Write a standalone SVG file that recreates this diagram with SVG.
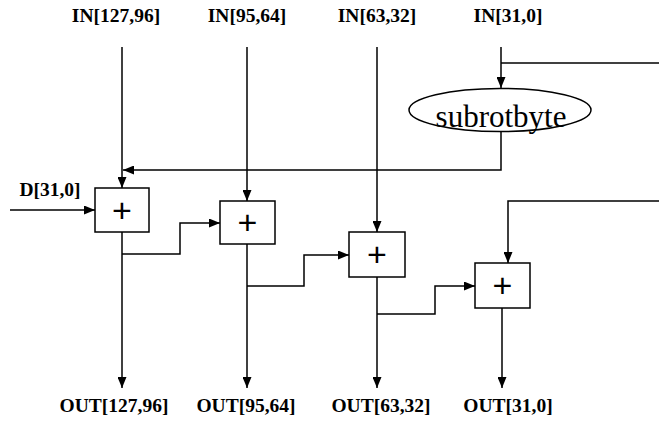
<svg xmlns="http://www.w3.org/2000/svg" width="659" height="426" viewBox="0 0 659 426">
<style>
.lbl{font-family:"Liberation Serif","Times New Roman",serif;font-weight:bold;font-size:19.5px;fill:#000;text-anchor:middle}
.box{fill:#fff;stroke:#000;stroke-width:1.5}
.plus{font-family:"Liberation Sans",Arial,sans-serif;font-size:34px;fill:#000;text-anchor:middle}
.w{fill:none;stroke:#000;stroke-width:1.5}
</style>
<defs>
<marker id="ah" viewBox="0 0 11 9" refX="11" refY="4.5" markerWidth="11" markerHeight="9" markerUnits="userSpaceOnUse" orient="auto">
<path d="M0,0 L11,4.5 L0,9 Z" fill="#000"/>
</marker>
</defs>
<rect width="659" height="426" fill="#fff"/>
<g id="labels">
<text class="lbl" x="116" y="22">IN[127,96]</text>
<text class="lbl" x="247" y="22">IN[95,64]</text>
<text class="lbl" x="377" y="22">IN[63,32]</text>
<text class="lbl" x="508" y="22">IN[31,0]</text>
<text class="lbl" x="50" y="196">D[31,0]</text>
<text class="lbl" x="114" y="412">OUT[127,96]</text>
<text class="lbl" x="246" y="412">OUT[95,64]</text>
<text class="lbl" x="381" y="412">OUT[63,32]</text>
<text class="lbl" x="508" y="412">OUT[31,0]</text>
</g>
<g id="connectors">
<path class="w" d="M122,47 V188" marker-end="url(#ah)"/>
<path class="w" d="M247,47 V201" marker-end="url(#ah)"/>
<path class="w" d="M377,47 V232" marker-end="url(#ah)"/>
<path class="w" d="M501,47 V88" marker-end="url(#ah)"/>
<path class="w" d="M501,63 H659"/>
<path class="w" d="M501,131 V170 H123" marker-end="url(#ah)"/>
<path class="w" d="M10,210 H95" marker-end="url(#ah)"/>
<path class="w" d="M122,232 V388" marker-end="url(#ah)"/>
<path class="w" d="M122,254 H180 V223 H220" marker-end="url(#ah)"/>
<path class="w" d="M247,244 V388" marker-end="url(#ah)"/>
<path class="w" d="M247,286 H304 V255 H349" marker-end="url(#ah)"/>
<path class="w" d="M377,277 V388" marker-end="url(#ah)"/>
<path class="w" d="M377,314 H435 V286 H475" marker-end="url(#ah)"/>
<path class="w" d="M659,201 H508 V263" marker-end="url(#ah)"/>
<path class="w" d="M502,308 V388" marker-end="url(#ah)"/>
</g>
<g id="subrotbyte">
<ellipse cx="500" cy="110" rx="91" ry="21.5" fill="#fff" stroke="#000" stroke-width="1.5"/>
<text x="501" y="127" font-family="'Liberation Serif','Times New Roman',serif" font-size="31" text-anchor="middle">subrotbyte</text>
</g>
<g id="add1">
<rect class="box" x="95" y="188" width="54" height="44"/>
<text class="plus" x="122" y="222">+</text>
</g>
<g id="add2">
<rect class="box" x="220" y="201" width="55" height="43"/>
<text class="plus" x="247.5" y="234">+</text>
</g>
<g id="add3">
<rect class="box" x="349" y="232" width="56" height="45"/>
<text class="plus" x="377" y="266">+</text>
</g>
<g id="add4">
<rect class="box" x="475" y="263" width="55" height="45"/>
<text class="plus" x="502.5" y="297">+</text>
</g>
</svg>
